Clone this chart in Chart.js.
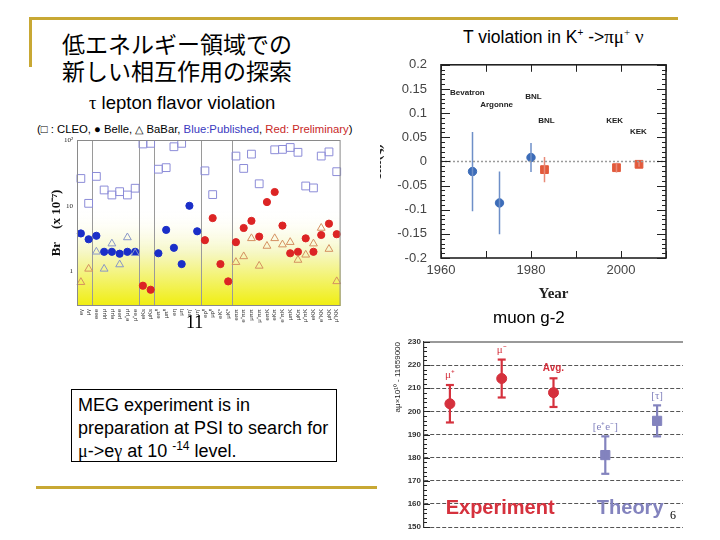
<!DOCTYPE html>
<html>
<head>
<meta charset="utf-8">
<script src="https://cdn.jsdelivr.net/npm/chart.js@4.4.0/dist/chart.umd.min.js"></script>
<style>
  body { margin: 0; width: 720px; height: 540px; position: relative; background: #fff; overflow: hidden;
         font-family: "Liberation Sans", Arial, sans-serif; color: #000; }
  .abs { position: absolute; }
  .gold { position: absolute; background: #c8a834; }
  .serif { font-family: "Liberation Serif", "Times New Roman", serif; }
  .up { position: relative; line-height: 0; }
</style>
</head>
<body>

<div class="gold" style="left:29px;top:17px;width:3px;height:50px"></div>
<div class="gold" style="left:29px;top:17px;width:649px;height:3px"></div>
<div class="gold" style="left:36px;top:486px;width:341px;height:3px"></div>

<div class="abs" style="left:62px;top:30px;font-size:23px;line-height:27px;font-family:'Noto Sans CJK JP',sans-serif;">低エネルギー領域での<br>新しい相互作用の探索</div>

<div class="abs" style="left:89px;top:92px;font-size:18.5px;white-space:nowrap;"><span class="serif">τ</span> lepton flavor violation</div>
<div class="abs" style="left:37px;top:123px;font-size:11.3px;white-space:nowrap;">(□ : CLEO, ● Belle, △ BaBar, <span style="color:#3a3ac0">Blue:Published</span>, <span style="color:#c82828">Red: Preliminary</span>)</div>
<div class="abs" style="left:35px;top:135px;width:312px;height:198px;"><canvas id="tau"></canvas></div>
<div class="abs serif" style="left:186px;top:312px;font-size:18px;">11</div>

<div class="abs" style="left:463px;top:26px;font-size:17.5px;white-space:nowrap;">T violation in K<span class="up" style="font-size:10px;top:-7px">+</span> -&gt;<span class="serif" style="font-size:19px">πμ</span><span class="serif up" style="font-size:11px;top:-7px">+</span> <span class="serif" style="font-size:19px">ν</span></div>
<div class="abs" style="left:380px;top:55px;width:300px;height:250px;overflow:hidden;">
  <div style="position:absolute;left:-14px;top:0;width:314px;height:250px;"><canvas id="tviol"></canvas></div>
</div>

<div class="abs" style="left:493px;top:308px;font-size:17px;">muon g-2</div>
<div class="abs" style="left:380px;top:330px;width:310px;height:205px;"><canvas id="g2"></canvas></div>

<div class="abs" style="left:71px;top:389px;width:266px;height:73px;box-sizing:border-box;border:1px solid #000;padding:4px 0 0 6px;font-size:18px;line-height:23px;white-space:nowrap;">MEG experiment is in<br>preparation at PSI to search for<br><span class="serif">μ</span>-&gt;e<span class="serif">γ</span> at 10 <span class="up" style="font-size:12px;top:-7px">-14</span> level.</div>

<div class="abs serif" style="left:670px;top:508px;font-size:12px;">6</div>

<script>
// ---- tau LFV upper limits (x 10^-7) ----
const tauModes = ['eγ', 'μγ', 'eee', 'μμμ', 'eμμ', 'μee', 'e⁺μμ', 'μ⁺ee', 'eKs', 'μKs',
  'eπ⁰', 'μπ⁰', 'eη', 'μη', "eη'", "μη'", 'eρ⁰', 'μρ⁰', 'eK*', 'μK*',
  'eππ', 'e⁺ππ', 'μππ', 'μ⁺ππ', 'eπK', 'eKπ', 'e⁺πK', 'μπK', 'μKπ', 'μ⁺πK', 'eKK', 'e⁺KK', 'μKK', 'μ⁺KK'];
const tauGroups = [2, 6, 2, 6, 4, 14];
const cleoBr = [26, 10.9, 28, 17.4, 14.6, 16.4, 14.6, 18.5, 87, 89,
  36, 38, 79, 89, null, null, 34, 14.8, null, null,
  57, 37, 61, 21.6, null, 71, 72, 77, 65, 20, 18.7, 57, 66, 33];
const bellePub = [3.8, 3.1, 3.5, 2.0, 2.0, 1.87, 2.0, 2.0, null, null,
  1.9, 4.3, 2.3, 1.3, 10, 4.1, null, null, null, null,
  null, null, null, null, null, null, null, null, null, null, null, null, null, null];
const bellePrel = [null, null, null, null, null, null, null, null, 0.61, 0.53,
  null, null, null, null, null, null, 3.0, 6.5, 1.3, 0.71,
  2.8, 4.6, 5.9, 3.4, 11.4, 16.2, 5.0, 1.9, 2.0, 3.2, 2.0, 3.6, 5.35, 3.7];
const babarPub = [null, null, 2.0, 1.1, 2.66, 1.28, 3.3, 1.9, null, null,
  null, null, null, null, null, null, null, null, null, null,
  null, null, null, null, null, null, null, null, null, null, null, null, null, null];
const babarPrel = [0.69, 1.1, null, null, null, null, null, null, null, null,
  null, null, null, null, null, null, null, null, null, null,
  1.39, 1.7, 3.2, 1.22, 2.45, 3.2, 2.57, 2.8, 1.5, 1.8, 2.66, 4.6, 2.2, 0.71];
const tauTicks = [1, 10, 100];

// ---- T violation in K+ -> pi mu nu ----
const tvPubYear = [1967, 1973, 1980];
const tvPubVal = [-0.021, -0.086, 0.008];
const tvPubErr = [0.082, 0.065, 0.030];
const tvPrelYear = [1983, 1999, 2004];
const tvPrelVal = [-0.017, -0.013, -0.006];
const tvPrelErr = [0.026, 0.010, 0.005];
const tvNoteText = ['Bevatron', 'Argonne', 'BNL', 'BNL', 'KEK', 'KEK'];
const tvNoteYear = [1962, 1968.7, 1978.7, 1981.6, 1996.7, 2002];
const tvNoteVal = [0.142, 0.118, 0.134, 0.085, 0.085, 0.062];
const tvYearTicks = [1960, 1980, 2000];

// ---- muon g-2 ----
const g2Labels = ['μ⁺', 'μ⁻', 'Avg.', '[e⁺e⁻]', '[τ]'];
const g2Kind = ['exp', 'exp', 'exp', 'th', 'th'];
const g2Vals = [203.3, 214.2, 208.1, 181.1, 195.9];
const g2Errs = [8.1, 8.2, 6.2, 8.1, 6.7];

Chart.defaults.animation = false;
Chart.defaults.font.family = '"Liberation Sans", Arial, sans-serif';
Chart.defaults.layout.autoPadding = false;

// tau chart
const dividers = [];
tauGroups.reduce((acc, n) => { acc += n; dividers.push(acc); return acc; }, 0);

const tauBackground = {
  id: 'tauBackground',
  beforeDraw(chart) {
    const {ctx, chartArea: a, scales} = chart;
    const top = scales.y.getPixelForValue(9);
    const g = ctx.createLinearGradient(0, top, 0, a.bottom);
    g.addColorStop(0, 'rgba(255,255,255,0)');
    g.addColorStop(0.45, '#f6f7c4');
    g.addColorStop(1, '#f0ee10');
    ctx.save();
    ctx.fillStyle = g;
    ctx.fillRect(a.left, top, a.right - a.left, a.bottom - top);
    ctx.restore();
  },
  afterDraw(chart) {
    const {ctx, chartArea: a} = chart;
    ctx.save();
    ctx.strokeStyle = '#8a8a8a';
    ctx.lineWidth = 1;
    ctx.strokeRect(a.left + 0.5, a.top + 0.5, a.right - a.left - 1, a.bottom - a.top - 1);
    ctx.restore();
  }
};

new Chart(document.getElementById('tau'), {
  type: 'line',
  data: {
    labels: tauModes,
    datasets: [
      { label: 'CLEO', data: cleoBr, showLine: false, pointStyle: 'rect', pointRadius: 5.5,
        borderColor: '#8c8cd8', backgroundColor: 'rgba(255,255,255,0)', pointBorderWidth: 1 },
      { label: 'BaBar', data: babarPub, showLine: false, pointStyle: 'triangle', pointRadius: 4.5,
        borderColor: '#8896c8', backgroundColor: 'rgba(255,255,255,0)', pointBorderWidth: 1 },
      { label: 'BaBar prel', data: babarPrel, showLine: false, pointStyle: 'triangle', pointRadius: 4.5,
        borderColor: '#d49060', backgroundColor: 'rgba(255,255,255,0)', pointBorderWidth: 1 },
      { label: 'Belle', data: bellePub, showLine: false, pointStyle: 'circle', pointRadius: 3.6,
        borderColor: '#1a2ec8', backgroundColor: '#1a2ec8' },
      { label: 'Belle prel', data: bellePrel, showLine: false, pointStyle: 'circle', pointRadius: 3.6,
        borderColor: '#dc2424', backgroundColor: '#dc2424' }
    ]
  },
  options: {
    responsive: true,
    maintainAspectRatio: false,
    layout: { padding: { top: 5, right: 5, left: 0, bottom: 0 } },
    plugins: { legend: { display: false }, tooltip: { enabled: false } },
    scales: {
      x: {
        offset: true,
        grid: { offset: true, drawTicks: false, lineWidth: 1,
                color: c => dividers.includes(c.index) ? '#9a9a9a' : 'rgba(0,0,0,0)' },
        border: { display: false },
        ticks: { autoSkip: false, maxRotation: 90, minRotation: 90, padding: 3,
                 font: { size: 6 }, color: '#333' },
        afterFit: s => { s.height = 27; }
      },
      y: {
        type: 'logarithmic', min: 0.31, max: 100,
        afterBuildTicks: s => { s.ticks = tauTicks.map(v => ({ value: v })); },
        afterFit: s => { s.width = 42; },
        grid: { display: false, drawTicks: true, tickLength: 4 },
        border: { display: false },
        ticks: { padding: 0, color: '#222', font: { family: '"Liberation Serif", serif', size: 7 },
                 callback: v => v === 100 ? '10²' : String(v) },
        title: { display: true, text: 'Br    (x 10⁻⁷)', color: '#111', padding: { top: 14, bottom: 0 },
                 font: { family: '"Liberation Serif", serif', size: 13, weight: 'bold' } }
      }
    }
  },
  plugins: [tauBackground]
});

// T violation chart
const tvDecor = {
  id: 'tvDecor',
  afterDraw(chart) {
    const {ctx, chartArea: a, scales: {x, y}} = chart;
    ctx.save();
    ctx.strokeStyle = '#222';
    ctx.lineWidth = 1;
    for (let yr = 1960; yr <= 2010; yr += 10) {
      const px = Math.round(x.getPixelForValue(yr)) + 0.5;
      ctx.beginPath();
      ctx.moveTo(px, a.bottom); ctx.lineTo(px, a.bottom - 7);
      ctx.moveTo(px, a.top); ctx.lineTo(px, a.top + 7);
      ctx.stroke();
    }
    for (let i = -20; i <= 20; i++) {
      const py = Math.round(y.getPixelForValue(i / 100)) + 0.5;
      const len = i % 5 === 0 ? 9 : 4;
      ctx.beginPath();
      ctx.moveTo(a.left, py); ctx.lineTo(a.left + len, py);
      ctx.moveTo(a.right, py); ctx.lineTo(a.right - len, py);
      ctx.stroke();
    }
    ctx.lineWidth = 1.6;
    ctx.strokeRect(a.left, a.top, a.right - a.left, a.bottom - a.top);
    ctx.fillStyle = '#222';
    ctx.font = 'bold 8px "Liberation Sans", Arial, sans-serif';
    ctx.textBaseline = 'middle';
    ctx.textAlign = 'left';
    tvNoteText.forEach((t, i) => {
      ctx.fillText(t, x.getPixelForValue(tvNoteYear[i]), y.getPixelForValue(tvNoteVal[i]));
    });
    ctx.restore();
  }
};

const tvSets = [
  { type: 'line', data: [{ x: 1960, y: 0 }, { x: 2010, y: 0 }], borderColor: '#9a9a9a',
    borderDash: [2, 2], borderWidth: 1.5, pointRadius: 0 }
];
tvPubYear.forEach((yr, i) => tvSets.push({ type: 'line', data: [{ x: yr, y: tvPubVal[i] - tvPubErr[i] }, { x: yr, y: tvPubVal[i] + tvPubErr[i] }],
  borderColor: '#6e8fc8', borderWidth: 1.5, pointRadius: 0 }));
tvPrelYear.forEach((yr, i) => tvSets.push({ type: 'line', data: [{ x: yr, y: tvPrelVal[i] - tvPrelErr[i] }, { x: yr, y: tvPrelVal[i] + tvPrelErr[i] }],
  borderColor: '#e88a78', borderWidth: 1.5, pointRadius: 0 }));
tvSets.push({ data: tvPubYear.map((yr, i) => ({ x: yr, y: tvPubVal[i] })), pointStyle: 'circle', pointRadius: 4.2,
  backgroundColor: '#3c6cb8', borderColor: '#3c6cb8' });
tvSets.push({ data: tvPrelYear.map((yr, i) => ({ x: yr, y: tvPrelVal[i] })), pointStyle: 'rect', pointRadius: 5.5,
  backgroundColor: '#e25a3c', borderColor: '#e25a3c' });

new Chart(document.getElementById('tviol'), {
  type: 'scatter',
  data: { datasets: tvSets },
  options: {
    responsive: true,
    maintainAspectRatio: false,
    layout: { padding: { top: 9, right: 14, left: 0, bottom: 0 } },
    plugins: { legend: { display: false }, tooltip: { enabled: false } },
    scales: {
      x: {
        type: 'linear', min: 1960, max: 2010,
        afterBuildTicks: s => { s.ticks = tvYearTicks.map(v => ({ value: v })); },
        afterFit: s => { s.height = 47; },
        grid: { display: false, drawTicks: false }, border: { display: false },
        ticks: { padding: 5, color: '#444', font: { size: 13 }, callback: v => String(v) },
        title: { display: true, text: 'Year', color: '#222', padding: { top: 0, bottom: 2 },
                 font: { family: '"Liberation Serif", serif', size: 15, weight: 'bold' } }
      },
      y: {
        min: -0.2, max: 0.2,
        afterFit: s => { s.width = 75; },
        grid: { display: false, drawTicks: true, tickLength: 12 }, border: { display: false },
        ticks: { stepSize: 0.05, padding: 2, color: '#444', font: { size: 13 },
                 callback: v => String(Math.round(v * 100) / 100) },
        title: { display: true, text: 'Im(ξ)', color: '#222', padding: { top: 2, bottom: 0 },
                 font: { family: '"Liberation Serif", serif', size: 15, weight: 'bold' } }
      }
    }
  },
  plugins: [tvDecor]
});

// muon g-2 chart
const expColor = '#d5313d';
const thColor = '#8383be';
const g2Decor = {
  id: 'g2Decor',
  afterDraw(chart) {
    const {ctx, chartArea: a, scales: {x, y}} = chart;
    ctx.save();
    ctx.strokeStyle = '#999';
    ctx.lineWidth = 2;
    ctx.beginPath();
    ctx.moveTo(a.left, a.top); ctx.lineTo(a.right, a.top);
    ctx.stroke();
    ctx.strokeStyle = '#222';
    ctx.lineWidth = 1;
    for (let v = 150; v <= 230; v += 2) {
      const py = Math.round(y.getPixelForValue(v)) + 0.5;
      ctx.beginPath();
      ctx.moveTo(a.left, py); ctx.lineTo(a.left + (v % 10 === 0 ? 6 : 3), py);
      ctx.stroke();
    }
    ctx.textAlign = 'center';
    ctx.textBaseline = 'middle';
    g2Labels.forEach((t, i) => {
      ctx.fillStyle = g2Kind[i] === 'exp' ? expColor : thColor;
      ctx.font = t === 'Avg.' ? 'bold 10px "Liberation Sans", Arial' : '11px "Liberation Serif", serif';
      ctx.fillText(t, x.getPixelForValue(i + 0.5), y.getPixelForValue(g2Vals[i] + g2Errs[i] + 4.2));
    });
    ctx.font = 'bold 20px "Liberation Sans", Arial, sans-serif';
    ctx.fillStyle = expColor;
    ctx.fillText('Experiment', x.getPixelForValue(1.47), y.getPixelForValue(158));
    ctx.fillStyle = thColor;
    ctx.fillText('Theory', x.getPixelForValue(3.98), y.getPixelForValue(158));
    ctx.restore();
  }
};

const g2Sets = [];
g2Vals.forEach((v, i) => g2Sets.push({
  type: 'line', data: [{ x: i + 0.5, y: v - g2Errs[i] }, { x: i + 0.5, y: v + g2Errs[i] }],
  borderColor: g2Kind[i] === 'exp' ? expColor : thColor, borderWidth: 2.2,
  pointStyle: 'line', pointRadius: 4, pointBorderWidth: 2.2,
  pointBorderColor: g2Kind[i] === 'exp' ? expColor : thColor
}));
g2Sets.push({ data: g2Vals.map((v, i) => ({ x: i + 0.5, y: v })).filter((p, i) => g2Kind[i] === 'exp'),
  pointStyle: 'circle', pointRadius: 5, backgroundColor: expColor, borderColor: expColor });
g2Sets.push({ data: g2Vals.map((v, i) => ({ x: i + 0.5, y: v })).filter((p, i) => g2Kind[i] === 'th'),
  pointStyle: 'rect', pointRadius: 6.5, backgroundColor: thColor, borderColor: thColor });

new Chart(document.getElementById('g2'), {
  type: 'scatter',
  data: { datasets: g2Sets },
  options: {
    responsive: true,
    maintainAspectRatio: false,
    layout: { padding: { top: 12, right: 7, left: 0, bottom: 8 } },
    plugins: { legend: { display: false }, tooltip: { enabled: false } },
    scales: {
      x: { type: 'linear', min: 0, max: 5, display: false },
      y: {
        min: 150, max: 230,
        afterFit: s => { s.width = 44; },
        grid: { color: '#555', lineWidth: 1, drawTicks: false },
        border: { display: true, color: '#333', width: 1.2, dash: [4, 2] },
        ticks: { stepSize: 10, padding: 3, color: '#333', font: { size: 8, weight: 'bold' } },
        title: { display: true, align: 'end', text: 'aμ×10¹⁰ - 11659000', color: '#222',
                 padding: { top: 13, bottom: 0 }, font: { size: 8 } }
      }
    }
  },
  plugins: [g2Decor]
});
</script>
</body>
</html>
